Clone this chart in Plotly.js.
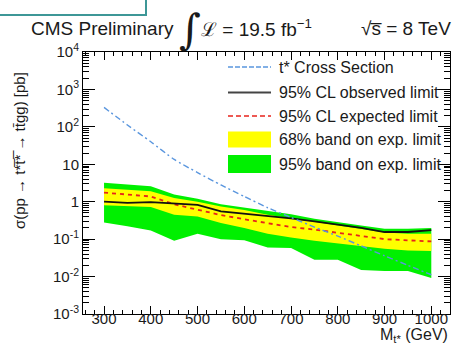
<!DOCTYPE html>
<html>
<head>
<meta charset="utf-8">
<script src="https://cdn.plot.ly/plotly-3.0.1.min.js"></script>
<style>
  html, body { margin: 0; padding: 0; background: #fff; }
  #chart { width: 461px; height: 348px; }
</style>
</head>
<body>
<div id="chart"></div>
<script>
// t* mass points (GeV)
const mass = [300, 350, 400, 450, 500, 550, 600, 650, 700, 750, 800, 850, 900, 950, 1000];

// 95% CL limits on sigma(pp -> t*t*bar -> ttbar gg) [pb]
const observed = [1.0, 0.93, 0.97, 0.9, 0.82, 0.55, 0.48, 0.42, 0.36, 0.30, 0.25, 0.20, 0.155, 0.155, 0.175];
const expected = [1.75, 1.55, 1.38, 0.85, 0.62, 0.44, 0.34, 0.27, 0.21, 0.18, 0.15, 0.125, 0.10, 0.093, 0.087];
const band68Up = [2.3, 2.1, 1.9, 1.25, 1.0, 0.75, 0.6, 0.45, 0.36, 0.30, 0.24, 0.19, 0.15, 0.14, 0.14];
const band68Dn = [0.8, 0.75, 0.72, 0.45, 0.40, 0.27, 0.20, 0.14, 0.11, 0.09, 0.075, 0.065, 0.055, 0.05, 0.048];
const band95Up = [3.2, 2.9, 2.6, 1.55, 1.2, 0.85, 0.70, 0.57, 0.46, 0.35, 0.28, 0.23, 0.19, 0.19, 0.20];
const band95Dn = [0.28, 0.22, 0.17, 0.09, 0.14, 0.10, 0.093, 0.06, 0.058, 0.028, 0.028, 0.015, 0.014, 0.014, 0.0092];

// theory cross section for t* pair production [pb]
const xsec = [331, 112, 40, 13.5, 6.0, 2.8, 1.38, 0.69, 0.38, 0.21, 0.12, 0.066, 0.036, 0.020, 0.0112];

// axis labels
const yTickVals = [1e-3, 1e-2, 1e-1, 1, 10, 1e2, 1e3, 1e4];
const yTickText = ['10<sup>-3</sup>', '10<sup>-2</sup>', '10<sup>-1</sup>', '1', '10', '10<sup>2</sup>', '10<sup>3</sup>', '10<sup>4</sup>'];
const xTickVals = [300, 400, 500, 600, 700, 800, 900, 1000];
const xTickText = ['300', '400', '500', '600', '700', '800', '900', '1000'];

const legendLabels = ['t* Cross Section', '95% CL observed limit', '95% CL expected limit',
                      '68% band on exp. limit', '95% band on exp. limit'];

// minor ticks on the log axis: 2..9 x 10^k
const yMinor = [];
for (let e = -3; e < 4; e++) for (let m = 2; m <= 9; m++) yMinor.push(m * Math.pow(10, e));

// frame geometry in pixels
const W = 461, H = 348;
const L = 83, R = 450, T = 52, B = 314;
const pw = R - L, ph = B - T;
const px = x => (x - L) / pw;
const py = y => 1 - (y - T) / ph;

function band(up, dn) {
  return {
    x: mass.concat(mass.slice().reverse()),
    y: up.concat(dn.slice().reverse())
  };
}

const b95 = band(band95Up, band95Dn);
const b68 = band(band68Up, band68Dn);

const RED = '#e8231b', BLUE = '#5a96de', YEL = '#ffff00', GRN = '#00f000';

const traces = [
  { x: b95.x, y: b95.y, type: 'scatter', mode: 'lines', fill: 'toself',
    fillcolor: GRN, line: { width: 0 }, hoverinfo: 'skip', name: legendLabels[4] },
  { x: b68.x, y: b68.y, type: 'scatter', mode: 'lines', fill: 'toself',
    fillcolor: YEL, line: { width: 0 }, hoverinfo: 'skip', name: legendLabels[3] },
  { x: mass, y: expected, type: 'scatter', mode: 'lines',
    line: { color: RED, width: 1.8, dash: '4px,4px' }, name: legendLabels[2] },
  { x: mass, y: observed, type: 'scatter', mode: 'lines',
    line: { color: '#111', width: 1.8 }, name: legendLabels[1] },
  { x: mass, y: xsec, type: 'scatter', mode: 'lines', line: { shape: 'spline', smoothing: 0.6,
    color: BLUE, width: 1.4, dash: '6px,3px,2px,3px' }, name: legendLabels[0] }
];

const FONT = 'Liberation Sans, Arial, sans-serif';
const INK = '#1a1a1a';

const shapes = [];
const annotations = [];

// legend swatches and labels
const rowY = [67, 92.5, 116, 139.5, 164];
const sx0 = 228, sx1 = 271, tx = 277;
shapes.push({ type: 'line', xref: 'paper', yref: 'paper', x0: px(sx0), x1: px(sx1), y0: py(rowY[0]), y1: py(rowY[0]),
  line: { color: BLUE, width: 1.5, dash: '5px,2px' } });
shapes.push({ type: 'line', xref: 'paper', yref: 'paper', x0: px(sx0), x1: px(sx1), y0: py(rowY[1]), y1: py(rowY[1]),
  line: { color: '#444', width: 1.8 } });
shapes.push({ type: 'line', xref: 'paper', yref: 'paper', x0: px(sx0), x1: px(sx1), y0: py(rowY[2]), y1: py(rowY[2]),
  line: { color: RED, width: 1.5, dash: '5px,3px' } });
shapes.push({ type: 'rect', xref: 'paper', yref: 'paper', x0: px(sx0), x1: px(sx1), y0: py(rowY[3] - 8), y1: py(rowY[3] + 8),
  fillcolor: YEL, line: { width: 0 } });
shapes.push({ type: 'rect', xref: 'paper', yref: 'paper', x0: px(sx0), x1: px(sx1), y0: py(rowY[4] - 9), y1: py(rowY[4] + 9),
  fillcolor: GRN, line: { width: 0 } });
legendLabels.forEach((t, i) => {
  annotations.push({ xref: 'paper', yref: 'paper', x: px(tx), y: py(rowY[i]), xanchor: 'left', yanchor: 'middle',
    text: t, showarrow: false, font: { family: FONT, size: 16, color: INK } });
});

// header box in the top-left corner
shapes.push({ type: 'rect', xref: 'paper', yref: 'paper', x0: px(-5), x1: px(146), y0: py(15), y1: py(-10),
  fillcolor: 'rgba(0,0,0,0)', line: { color: '#3d9797', width: 2 } });

// header text
annotations.push({ xref: 'paper', yref: 'paper', x: px(29), y: py(28), xanchor: 'left', yanchor: 'middle',
  text: 'CMS Preliminary', showarrow: false, font: { family: FONT, size: 19, color: INK } });
annotations.push({ xref: 'paper', yref: 'paper', x: px(177), y: py(30), xanchor: 'left', yanchor: 'middle',
  text: '\u222B', showarrow: false, font: { family: 'DejaVu Serif, serif', size: 42, color: INK } });
annotations.push({ xref: 'paper', yref: 'paper', x: px(199), y: py(28), xanchor: 'left', yanchor: 'middle',
  text: '\u2112 = 19.5 fb<sup>\u22121</sup>', showarrow: false, font: { family: FONT, size: 19, color: INK } });
annotations.push({ xref: 'paper', yref: 'paper', x: px(359), y: py(28), xanchor: 'left', yanchor: 'middle',
  text: '\u221As\u0305 = 8 TeV', showarrow: false, font: { family: FONT, size: 19, color: INK } });

// axis titles
annotations.push({ xref: 'paper', yref: 'paper', x: px(450), y: py(335), xanchor: 'right', yanchor: 'middle',
  text: 'M<sub>t*</sub> (GeV)', showarrow: false, font: { family: FONT, size: 16, color: INK } });
annotations.push({ xref: 'paper', yref: 'paper', x: px(19), y: py(151), xanchor: 'center', yanchor: 'middle',
  textangle: -90, text: '\u03C3(pp \u2192 t*t\u0305*\u0305 \u2192 tt\u0304gg) [pb]', showarrow: false,
  font: { family: FONT, size: 15, color: INK } });

const layout = {
  width: W, height: H,
  margin: { l: L, r: W - R, t: T, b: H - B, pad: 0 },
  paper_bgcolor: '#fff', plot_bgcolor: '#fff',
  showlegend: false,
  font: { family: FONT, color: INK },
  xaxis: {
    range: [255, 1040], showgrid: false, zeroline: false,
    showline: true, linecolor: '#000', linewidth: 1, mirror: 'ticks',
    ticks: 'inside', ticklen: 8, tickcolor: '#000', tickwidth: 1,
    tickmode: 'array', tickvals: xTickVals, ticktext: xTickText,
    tickfont: { family: FONT, size: 15, color: INK },
    ticklabelstandoff: -9,
    minor: { ticks: 'inside', ticklen: 4, tickcolor: '#000', dtick: 20, tick0: 0, showgrid: false }
  },
  yaxis: {
    type: 'log', range: [-3, 4], showgrid: false, zeroline: false,
    showline: true, linecolor: '#000', linewidth: 1, mirror: 'ticks',
    ticks: 'inside', ticklen: 12, tickcolor: '#000', tickwidth: 1,
    tickmode: 'array', tickvals: yTickVals, ticktext: yTickText,
    tickfont: { family: FONT, size: 15, color: INK },
    minor: { ticks: 'inside', ticklen: 6, tickcolor: '#000', tickmode: 'array', tickvals: yMinor, showgrid: false }
  },
  shapes: shapes,
  annotations: annotations
};

Plotly.newPlot('chart', traces, layout, { staticPlot: true, displayModeBar: false });
</script>
</body>
</html>
